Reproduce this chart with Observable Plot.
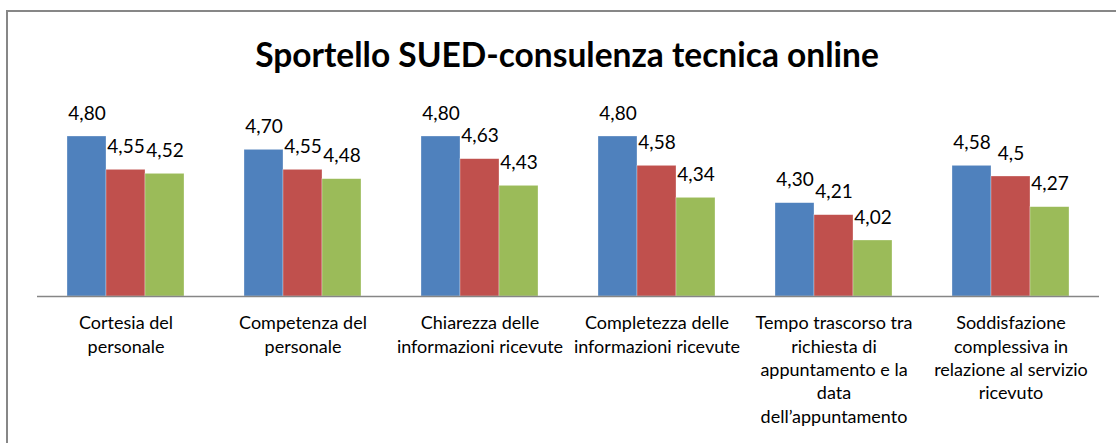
<!DOCTYPE html>
<html>
<head>
<meta charset="utf-8">
<script src="https://cdn.jsdelivr.net/npm/d3@7"></script>
<script src="https://cdn.jsdelivr.net/npm/@observablehq/plot@0.6"></script>
<style>
  html, body { margin: 0; padding: 0; background: #fff; overflow: hidden; }
  #wrap { position: relative; width: 1116px; height: 443px; overflow: hidden; font-family: Lato, "Open Sans", sans-serif; }
  #frame { position: absolute; left: 6px; top: 10px; width: 1150px; height: 500px; border-left: 2px solid #878787; border-top: 2px solid #878787; box-sizing: border-box; pointer-events: none; }
  #title { position: absolute; left: 0; top: 32px; width: 1134px; text-align: center; font-size: 33.5px; font-weight: bold; color: #000; line-height: 44px; }
  #chart { position: absolute; left: 0; top: 0; }
</style>
</head>
<body>
<div id="wrap">
  <div id="chart"></div>
  <div id="frame"></div>
  <div id="title">Sportello SUED-consulenza tecnica online</div>
</div>
<script>
const categories = [
  "Cortesia del\npersonale",
  "Competenza del\npersonale",
  "Chiarezza delle\ninformazioni ricevute",
  "Completezza delle\ninformazioni ricevute",
  "Tempo trascorso tra\nrichiesta di\nappuntamento e la\ndata\ndell’appuntamento",
  "Soddisfazione\ncomplessiva in\nrelazione al servizio\nricevuto"
];
const seriesNames = ["Serie 1", "Serie 2", "Serie 3"];
const seriesColors = ["#4F81BD", "#C0504D", "#9BBB59"];
const serie1 = [4.80, 4.70, 4.80, 4.80, 4.30, 4.58];
const serie2 = [4.55, 4.55, 4.63, 4.58, 4.21, 4.50];
const serie3 = [4.52, 4.48, 4.43, 4.34, 4.02, 4.27];
const serie1Labels = ["4,80", "4,70", "4,80", "4,80", "4,30", "4,58"];
const serie2Labels = ["4,55", "4,55", "4,63", "4,58", "4,21", "4,5"];
const serie3Labels = ["4,52", "4,48", "4,43", "4,34", "4,02", "4,27"];
const yDomain = [3.6, 4.8];

const allValues = [serie1, serie2, serie3];
const allLabels = [serie1Labels, serie2Labels, serie3Labels];
const data = [];
categories.forEach((c, i) => {
  seriesNames.forEach((s, j) => {
    data.push({category: c, series: s, value: allValues[j][i], label: allLabels[j][i]});
  });
});

const chart = Plot.plot({
  width: 1116,
  height: 443,
  marginLeft: 36,
  marginRight: 16,
  marginTop: 0,
  marginBottom: 147,
  style: {fontFamily: "Lato, 'Open Sans', sans-serif", fontSize: "18px", color: "#000", background: "transparent"},
  fx: {domain: categories, padding: 0, label: null},
  x: {domain: seriesNames, paddingInner: 0, paddingOuter: 0.75, axis: null},
  y: {domain: yDomain, range: [296, 136], axis: null},
  color: {domain: seriesNames, range: seriesColors},
  marks: [
    Plot.barY(data, {fx: "category", x: "series", y1: yDomain[0], y2: "value", fill: "series", stroke: "#ffffff", strokeOpacity: 0.5, strokeWidth: 0.6}),
    Plot.ruleY([yDomain[0]], {stroke: "#868686", strokeWidth: 1.6}),
    Plot.text(data, {fx: "category", x: "series", y: "value", text: "label", dy: -23, fontSize: 19, fill: "#000"}),
    Plot.axisFx({anchor: "bottom", tickSize: 0, tickPadding: 16, fontSize: 18, lineHeight: 1.3, fill: "#000", label: null})
  ]
});
document.getElementById("chart").appendChild(chart);
</script>
</body>
</html>
